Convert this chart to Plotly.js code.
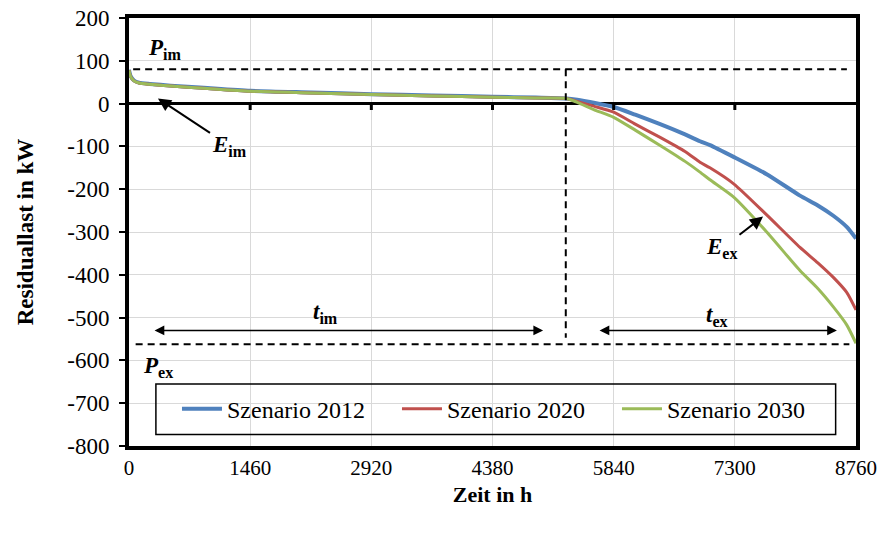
<!DOCTYPE html>
<html>
<head>
<meta charset="utf-8">
<script src="https://cdn.plot.ly/plotly-3.0.1.min.js"></script>
<style>html,body{margin:0;padding:0;background:#fff;}#chart{width:883px;height:533px;}</style>
</head>
<body>
<div id="chart"></div>
<script>
// Hours of the year (sorted duration curve)
const hours = [0, 20, 60, 120, 250, 500, 900, 1460, 2190, 2920, 3650, 4380, 4900, 5270, 5400, 5600, 5840, 6100, 6400, 6700, 6880, 7000, 7290, 7684, 8085, 8300, 8487, 8648, 8760];
// Residual load in kW
const s2012 = [79, 64, 54, 49, 46, 42, 37, 30, 26, 22, 19, 16, 14, 12, 9, 2, -8, -26, -48, -72, -88, -97, -125, -165, -215, -238, -262, -288, -315];
const s2020 = [78, 63, 53, 48, 45, 41, 36, 29, 25, 21, 18, 15, 13, 12, 5, -6, -20, -48, -79, -112, -137, -150, -188, -260, -336, -372, -406, -441, -482];
const s2030 = [78, 63, 53, 48, 45, 41, 36, 29, 25, 21, 18, 15, 13, 12, 3, -14, -32, -62, -98, -135, -160, -178, -219, -300, -390, -432, -475, -517, -560];
const seriesNames = ['Szenario 2012', 'Szenario 2020', 'Szenario 2030'];
const seriesColors = ['#4f81bd', '#c0504d', '#9bbb59'];
const xTicks = [0, 1460, 2920, 4380, 5840, 7300, 8760];
const yTicks = [200, 100, 0, -100, -200, -300, -400, -500, -600, -700, -800];

// Reference levels
const Pim = 80, Pex = -562, tSplit = 5263;

const F = 'Liberation Serif, Times New Roman, serif';
const traces = [s2012, s2020, s2030].map((v, i) => ({
  x: hours, y: v, type: 'scatter', mode: 'lines', name: seriesNames[i],
  line: {color: seriesColors[i], width: i === 0 ? 4 : 3, shape: 'spline', smoothing: 0.6}
}));

const dash = {color: '#000', width: 2, dash: '7px,5px'};
const shapes = [
  {type: 'line', xref: 'x', yref: 'y', x0: 50, x1: 8650, y0: Pim, y1: Pim, line: dash},
  {type: 'line', xref: 'x', yref: 'y', x0: 80, x1: 8680, y0: Pex, y1: Pex, line: dash},
  {type: 'line', xref: 'x', yref: 'y', x0: tSplit, x1: tSplit, y0: Pim, y1: Pex + 15, line: dash},
  {type: 'rect', xref: 'paper', yref: 'paper', x0: 0.037, x1: 0.972, y0: 0.027, y1: 0.145, line: {color: '#000', width: 1.5}, fillcolor: 'rgba(0,0,0,0)'}
];
xTicks.slice(1, -1).forEach(t => shapes.push({type: 'line', xref: 'x', yref: 'y', x0: t, x1: t, y0: 0, y1: -15, line: {color: '#000', width: 3}}));

const af = {family: F, size: 23, color: '#000'};
const annotations = [
  {x: 434, y: 128, xref: 'x', yref: 'y', text: '<b><i>P</i><sub>im</sub></b>', showarrow: false, font: af},
  {x: 350, y: -615, xref: 'x', yref: 'y', text: '<b><i>P</i><sub>ex</sub></b>', showarrow: false, font: af},
  {x: 2362, y: -490, xref: 'x', yref: 'y', text: '<b><i>t</i><sub>im</sub></b>', showarrow: false, font: af},
  {x: 7085, y: -497, xref: 'x', yref: 'y', text: '<b><i>t</i><sub>ex</sub></b>', showarrow: false, font: af},
  // E labels with arrows
  {x: 349, y: 12, ax: 1205, ay: -98, xref: 'x', yref: 'y', axref: 'x', ayref: 'y', text: '<b><i>E</i><sub>im</sub></b>', font: af, showarrow: true, arrowhead: 2, arrowsize: 1.3, arrowwidth: 2, arrowcolor: '#000', standoff: 0},
  {x: 7640, y: -264, ax: 7145, ay: -338, xref: 'x', yref: 'y', axref: 'x', ayref: 'y', text: '<b><i>E</i><sub>ex</sub></b>', font: af, showarrow: true, arrowhead: 2, arrowsize: 1.3, arrowwidth: 2, arrowcolor: '#000', standoff: 0},
  // t double arrows
  {x: 4990, y: -530, ax: 290, ay: -530, xref: 'x', yref: 'y', axref: 'x', ayref: 'y', text: '', showarrow: true, arrowside: 'end+start', arrowhead: 2, startarrowhead: 2, arrowsize: 1.3, startarrowsize: 1.3, arrowwidth: 1.5, arrowcolor: '#000'},
  {x: 8530, y: -530, ax: 5652, ay: -530, xref: 'x', yref: 'y', axref: 'x', ayref: 'y', text: '', showarrow: true, arrowside: 'end+start', arrowhead: 2, startarrowhead: 2, arrowsize: 1.3, startarrowsize: 1.3, arrowwidth: 1.5, arrowcolor: '#000'}
];

const layout = {
  width: 883, height: 533,
  margin: {l: 129, r: 27, t: 18, b: 87},
  paper_bgcolor: '#fff', plot_bgcolor: '#fff',
  font: {family: F, color: '#000'},
  showlegend: true,
  legend: {orientation: 'h', x: 0.066, y: 0.086, xanchor: 'left', yanchor: 'middle',
    bgcolor: 'rgba(0,0,0,0)', borderwidth: 0, font: {family: F, size: 24, color: '#000'},
    entrywidth: 165, itemwidth: 40},
  xaxis: {range: [0, 8760], tickvals: xTicks, ticktext: xTicks.map(String), showgrid: true, gridcolor: '#d9d9d9', gridwidth: 1,
    zeroline: false, showline: true, linecolor: '#000', linewidth: 4, mirror: true, ticks: '',
    tickfont: {family: F, size: 21, color: '#000'},
    title: {text: '<b>Zeit in h</b>', font: {family: F, size: 22, color: '#000'}, standoff: 8}},
  yaxis: {range: [-800, 200], tickvals: yTicks, ticktext: yTicks.map(String), showgrid: true, gridcolor: '#d9d9d9', gridwidth: 1,
    zeroline: true, zerolinecolor: '#000', zerolinewidth: 3,
    showline: true, linecolor: '#000', linewidth: 4, mirror: true,
    ticks: 'outside', ticklen: 6, tickwidth: 2, tickcolor: '#000', ticklabelstandoff: 5,
    tickfont: {family: F, size: 23, color: '#000'},
    title: {text: '<b>Residuallast in kW</b>', font: {family: F, size: 23, color: '#000'}, standoff: 28}},
  shapes: shapes,
  annotations: annotations
};

Plotly.newPlot('chart', traces, layout, {displayModeBar: false, staticPlot: true});
</script>
</body>
</html>
